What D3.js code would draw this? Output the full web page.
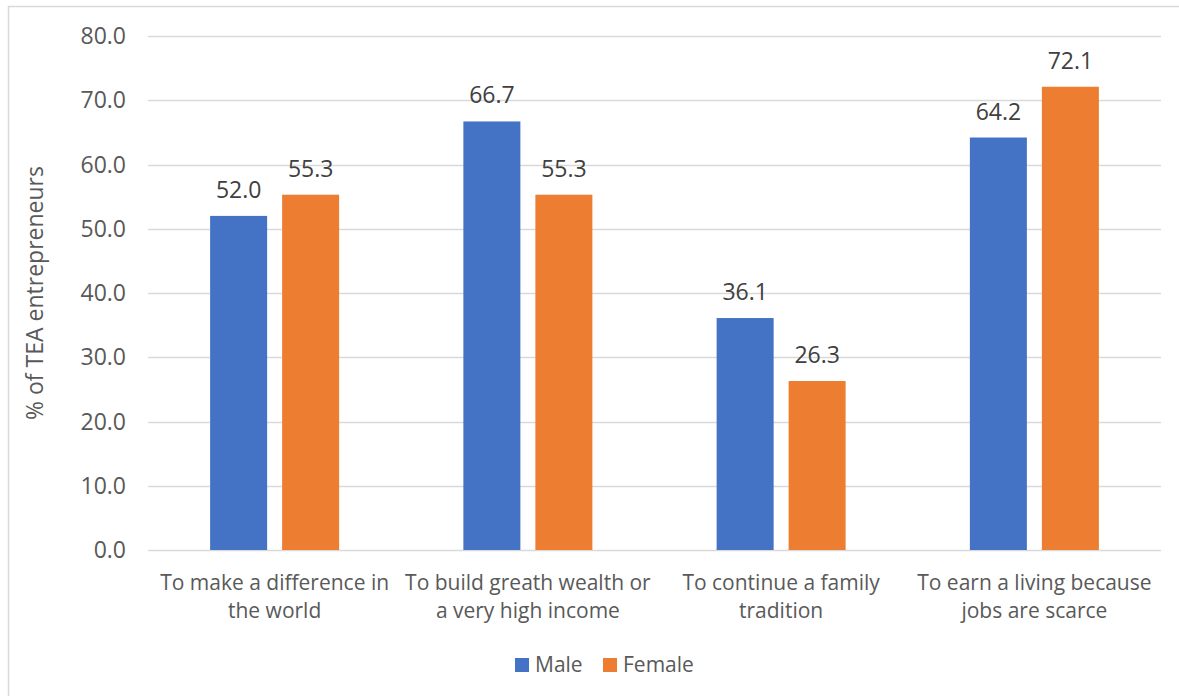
<!DOCTYPE html>
<html>
<head>
<meta charset="utf-8">
<script src="https://cdn.jsdelivr.net/npm/d3@7"></script>
<style>
  body { margin: 0; background: #fff; }
  svg text { font-family: "Open Sans", "Noto Sans", sans-serif; fill: #595959; }
</style>
</head>
<body>
<svg width="1179" height="696"></svg>
<script>
// chart data
const categories = [
  ['To make a difference in', 'the world'],
  ['To build greath wealth or', 'a very high income'],
  ['To continue a family', 'tradition'],
  ['To earn a living because', 'jobs are scarce']
]
const seriesNames = ['Male', 'Female']
const maleValues = [52.0, 66.7, 36.1, 64.2]
const femaleValues = [55.3, 55.3, 26.3, 72.1]
const yTicks = [0, 10, 20, 30, 40, 50, 60, 70, 80]

const colors = ['#4472C4', '#ED7D31']

const svg = d3.select('svg')
const margin = {top: 36, right: 18, bottom: 146, left: 148}
const width = 1179 - margin.left - margin.right
const height = 696 - margin.top - margin.bottom

// outer chart border
svg.append('rect')
  .attr('x', 8.5).attr('y', 6.5)
  .attr('width', 1200).attr('height', 720)
  .attr('fill', 'none')
  .attr('stroke', '#d9d9d9')
  .attr('stroke-width', 1.5)

const g = svg.append('g').attr('transform', 'translate(' + margin.left + ',' + margin.top + ')')

const catIdx = categories.map((c, i) => i)

const x0 = d3.scaleBand()
  .domain(catIdx)
  .range([0, width])
  .paddingInner(0)

// bar width 57, gap between pair 15 inside a ~253px band
const x1 = d3.scaleBand()
  .domain(seriesNames)
  .range([x0.bandwidth() / 2 - 64.5, x0.bandwidth() / 2 + 64.5])
  .paddingInner(15 / 72)
  .paddingOuter(0)

const y = d3.scaleLinear()
  .domain([0, 80])
  .range([height, 0])

// gridlines
g.append('g')
  .selectAll('line')
  .data(yTicks)
  .enter().append('line')
    .attr('x1', 0)
    .attr('x2', width)
    .attr('y1', d => Math.round(y(d)) + 0.5)
    .attr('y2', d => Math.round(y(d)) + 0.5)
    .attr('stroke', '#d9d9d9')
    .attr('stroke-width', 1.3)

// y tick labels
g.append('g')
  .selectAll('text')
  .data(yTicks)
  .enter().append('text')
    .attr('x', -22)
    .attr('y', d => y(d))
    .attr('dy', '0.35em')
    .attr('text-anchor', 'end')
    .style('font-size', '23px')
    .text(d => d.toFixed(1))

// y axis title
g.append('text')
  .attr('transform', 'translate(' + (-113) + ',' + (height / 2) + ') rotate(-90)')
  .attr('text-anchor', 'middle')
  .attr('dy', '0.35em')
  .style('font-size', '23px')
  .text('% of TEA entrepreneurs')

// bars
const rows = catIdx.map(i => ({cat: i, values: [
  {key: seriesNames[0], value: maleValues[i]},
  {key: seriesNames[1], value: femaleValues[i]}
]}))

const groups = g.append('g')
  .selectAll('g')
  .data(rows)
  .enter().append('g')
    .attr('transform', d => 'translate(' + x0(d.cat) + ',0)')

groups.selectAll('rect')
  .data(d => d.values)
  .enter().append('rect')
    .attr('x', d => x1(d.key))
    .attr('y', d => y(d.value))
    .attr('width', x1.bandwidth())
    .attr('height', d => height - y(d.value))
    .attr('fill', (d, i) => colors[i])

groups.selectAll('text.value')
  .data(d => d.values)
  .enter().append('text')
    .attr('class', 'value')
    .attr('x', d => x1(d.key) + x1.bandwidth() / 2)
    .attr('y', d => y(d.value) - 18)
    .attr('text-anchor', 'middle')
    .style('font-size', '23px')
    .style('fill', '#404040')
    .text(d => d.value.toFixed(1))

// category labels
const xlab = g.append('g')
  .selectAll('text')
  .data(catIdx)
  .enter().append('text')
    .attr('x', d => x0(d) + x0.bandwidth() / 2)
    .attr('y', height + 40)
    .attr('text-anchor', 'middle')
    .style('font-size', '21px')

xlab.selectAll('tspan')
  .data(d => categories[d])
  .enter().append('tspan')
    .attr('x', function () { return d3.select(this.parentNode).attr('x') })
    .attr('dy', (d, i) => i === 0 ? 0 : 28)
    .text(d => d)

// legend
const legend = svg.append('g')
  .attr('transform', 'translate(515,658)')

const legendX = [0, 88]
const legendItem = legend.selectAll('g')
  .data(seriesNames)
  .enter().append('g')
    .attr('transform', (d, i) => 'translate(' + legendX[i] + ',0)')

legendItem.append('rect')
  .attr('width', 14)
  .attr('height', 14)
  .attr('fill', (d, i) => colors[i])

legendItem.append('text')
  .attr('x', 20)
  .attr('y', 7)
  .attr('dy', '0.35em')
  .style('font-size', '21px')
  .text(d => d)
</script>
</body>
</html>
